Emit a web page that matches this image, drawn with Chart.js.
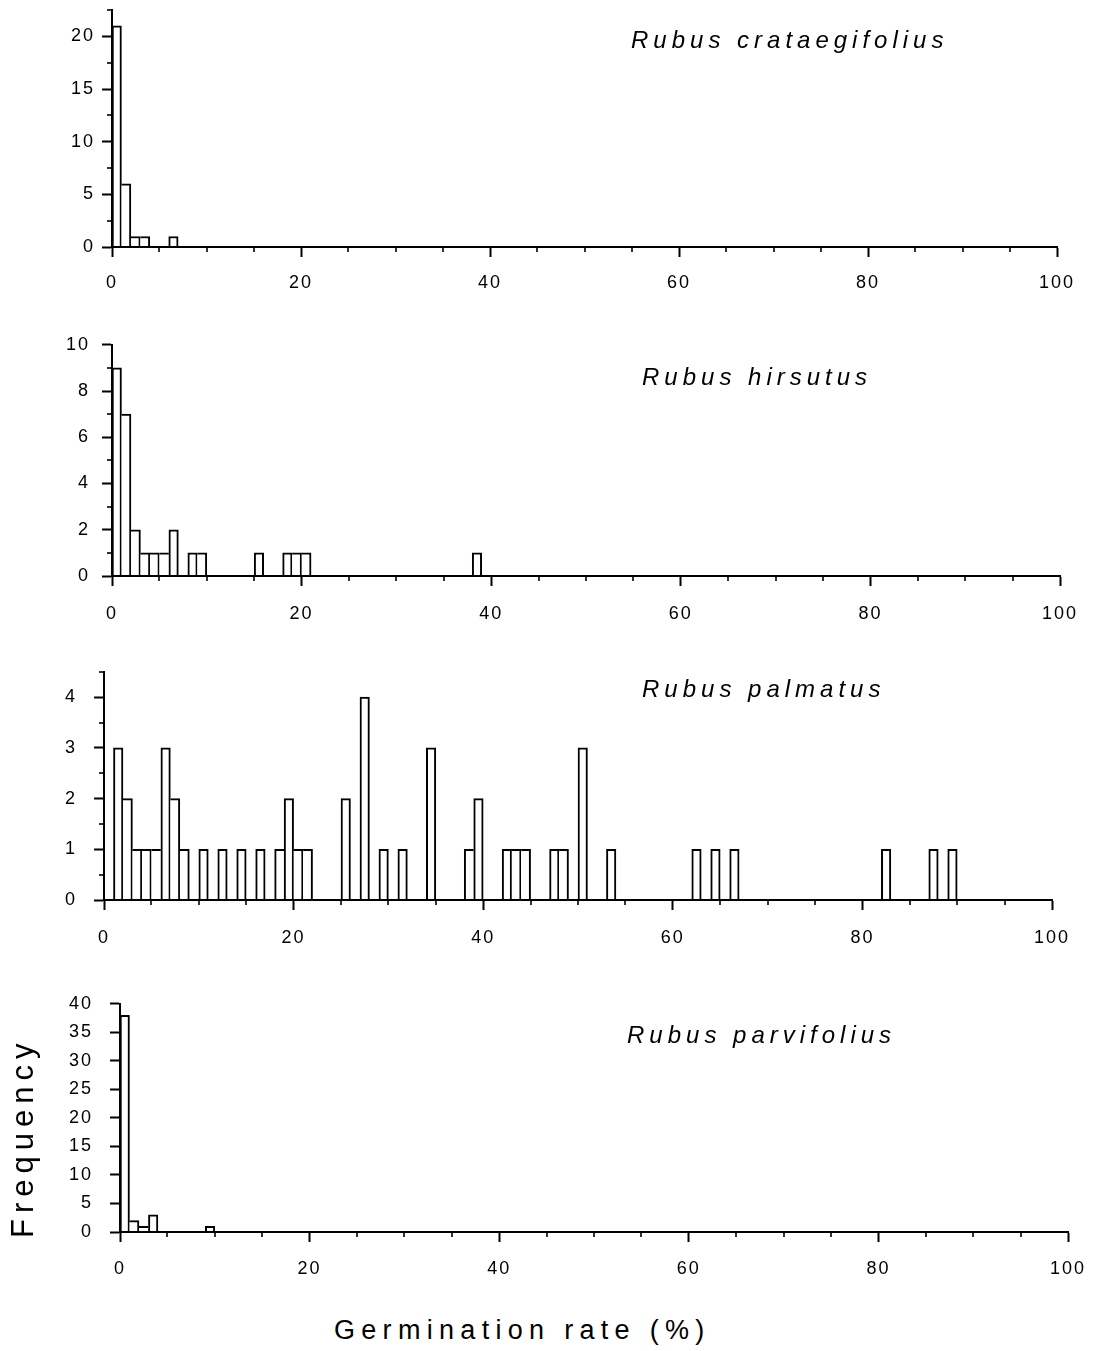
<!DOCTYPE html>
<html>
<head>
<meta charset="utf-8">
<script src="https://cdn.jsdelivr.net/npm/chart.js@4.4.1/dist/chart.umd.min.js"></script>
<style>
html,body{margin:0;padding:0;background:#fff;}
body{width:1094px;height:1351px;position:relative;overflow:hidden;font-family:"Liberation Sans",Arial,Helvetica,sans-serif;color:#000;}
.panel{position:absolute;left:0;}
.panel canvas{display:block;}
.name{position:absolute;font-style:italic;font-size:24px;line-height:1;letter-spacing:5px;white-space:nowrap;}
.xtitle{position:absolute;font-size:27px;line-height:1;letter-spacing:6.3px;white-space:nowrap;}
.ytitle{position:absolute;font-size:31px;line-height:1;letter-spacing:6px;white-space:nowrap;transform-origin:0 0;transform:rotate(-90deg);}
</style>
</head>
<body>
<div class="panel" id="p0"><canvas id="c0"></canvas></div>
<div class="panel" id="p1"><canvas id="c1"></canvas></div>
<div class="panel" id="p2"><canvas id="c2"></canvas></div>
<div class="panel" id="p3"><canvas id="c3"></canvas></div>
<div class="name" id="n0"></div>
<div class="name" id="n1"></div>
<div class="name" id="n2"></div>
<div class="name" id="n3"></div>
<div class="ytitle" id="ytitle"></div>
<div class="xtitle" id="xtitle"></div>
<script>
// ---------------- data ----------------
const speciesNames = ['Rubus crataegifolius', 'Rubus hirsutus', 'Rubus palmatus', 'Rubus parvifolius'];
const xAxisTitle = 'Germination rate (%)';
const yAxisTitle = 'Frequency';

// x tick labels shown every 20 %, minor ticks every 5 %
const xTickLabels = ['0', '20', '40', '60', '80', '100'];

// histogram bins (lower edge of a 1 % wide bin) and their counts
const crataegifoliusBins   = [0, 1, 2, 3, 6];
const crataegifoliusCounts = [21, 6, 1, 1, 1];

const hirsutusBins   = [0, 1, 2, 3, 4, 5, 6, 8, 9, 15, 18, 19, 20, 38];
const hirsutusCounts = [9, 7, 2, 1, 1, 1, 2, 1, 1, 1, 1, 1, 1, 1];

const palmatusBins   = [1, 2, 3, 4, 5, 6, 7, 8, 10, 12, 14, 16, 18, 19, 20, 21, 25, 27, 29, 31, 34, 38, 39, 42, 43, 44, 47, 48, 50, 53, 62, 64, 66, 82, 87, 89];
const palmatusCounts = [3, 2, 1, 1, 1, 3, 2, 1, 1, 1, 1, 1, 1, 2, 1, 1, 2, 4, 1, 1, 3, 1, 2, 1, 1, 1, 1, 1, 3, 1, 1, 1, 1, 1, 1, 1];

const parvifoliusBins   = [0, 1, 2, 3, 9];
const parvifoliusCounts = [38, 2, 1, 3, 1];

// y axis tick labels for each panel
const crataegifoliusYLabels = ['0', '5', '10', '15', '20'];
const hirsutusYLabels       = ['0', '2', '4', '6', '8', '10'];
const palmatusYLabels       = ['0', '1', '2', '3', '4'];
const parvifoliusYLabels    = ['0', '5', '10', '15', '20', '25', '30', '35', '40'];

// ---------------- layout / style ----------------
const W = 1120;   // canvas wider than the page so right-hand label overflow never shrinks the plot
const panels = [
  { bins: crataegifoliusBins, counts: crataegifoliusCounts, yLabels: crataegifoliusYLabels,
    yMax: 22.5, yStep: 2.5, left: 112, right: 1057, top: 10, bottom: 247, yPad: 7, xPad: 15,
    nameX: 631, nameBase: 48 },
  { bins: hirsutusBins, counts: hirsutusCounts, yLabels: hirsutusYLabels,
    yMax: 10, yStep: 1, left: 112, right: 1060, top: 342, bottom: 576, yPad: 12, xPad: 17,
    nameX: 642, nameBase: 385 },
  { bins: palmatusBins, counts: palmatusCounts, yLabels: palmatusYLabels,
    yMax: 4.5, yStep: 0.5, left: 104, right: 1052, top: 664, bottom: 900, yPad: 17, xPad: 17,
    nameX: 642, nameBase: 697 },
  { bins: parvifoliusBins, counts: parvifoliusCounts, yLabels: parvifoliusYLabels,
    yMax: 40, yStep: 5, left: 120, right: 1068, top: 996, bottom: 1232, yPad: 17, xPad: 16,
    nameX: 627, nameBase: 1043 }
];
const PAD_TOP = 20, XAXIS_H = 55;

Chart.defaults.font.family = '"Liberation Sans", Arial, Helvetica, sans-serif';
Chart.defaults.font.size = 18;
Chart.defaults.color = '#000';

const spacing = {
  id: 'spacing',
  beforeDraw(chart) { chart.ctx.letterSpacing = '2px'; }
};

const minorTicks = {
  id: 'minorTicks',
  afterDraw(chart, args, opts) {
    const ctx = chart.ctx, a = chart.chartArea;
    const xs = chart.scales.x, ys = chart.scales.y;
    ctx.save();
    ctx.strokeStyle = '#000';
    ctx.lineWidth = 1.6;
    xs.ticks.forEach(t => {
      if (!opts.isMajorX(t.value)) {
        const p = Math.round(xs.getPixelForValue(t.value));
        ctx.beginPath(); ctx.moveTo(p, a.bottom); ctx.lineTo(p, a.bottom + 5); ctx.stroke();
      }
    });
    ys.ticks.forEach(t => {
      if (!opts.isMajorY(t.value)) {
        const p = Math.round(ys.getPixelForValue(t.value));
        ctx.beginPath(); ctx.moveTo(a.left, p); ctx.lineTo(a.left - 5, p); ctx.stroke();
      }
    });
    ctx.restore();
  }
};

function makeChart(idx) {
  const P = panels[idx];
  const canvasTop = P.top - PAD_TOP;
  const H = (P.bottom - P.top) + PAD_TOP + XAXIS_H;
  const div = document.getElementById('p' + idx);
  div.style.top = canvasTop + 'px';
  const cv = document.getElementById('c' + idx);
  cv.width = W; cv.height = H;
  cv.style.width = W + 'px'; cv.style.height = H + 'px';

  const data = P.bins.map((b, i) => ({ x: b + 0.5, y: P.counts[i] }));
  const yLabelVals = P.yLabels.map(Number);
  const xLabelVals = xTickLabels.map(Number);
  const isMajorX = v => xLabelVals.some(m => Math.abs(m - v) < 1e-6);
  const isMajorY = v => yLabelVals.some(m => Math.abs(m - v) < 1e-6);

  new Chart(cv, {
    type: 'bar',
    data: {
      datasets: [{
        data: data,
        backgroundColor: '#fff',
        borderColor: '#000',
        borderSkipped: 'start',
        barPercentage: 1,
        categoryPercentage: 1,
        borderWidth: (c) => {
          const d = c.dataset.data, i = c.dataIndex;
          if (i === undefined || !d[i]) return 2;
          const cur = d[i];
          const prev = d.find(p => Math.abs(p.x - (cur.x - 1)) < 1e-6);
          const next = d.find(p => Math.abs(p.x - (cur.x + 1)) < 1e-6);
          const ph = prev ? prev.y : 0, nh = next ? next.y : 0;
          return { top: 2, bottom: 0, left: ph >= cur.y ? 0 : 2, right: nh > cur.y ? 0 : 2 };
        }
      }]
    },
    options: {
      responsive: false,
      animation: false,
      devicePixelRatio: 1,
      layout: { padding: { left: 0, right: W - P.right, top: PAD_TOP, bottom: 0 } },
      plugins: {
        legend: { display: false },
        tooltip: { enabled: false },
        minorTicks: { isMajorX, isMajorY }
      },
      scales: {
        x: {
          type: 'linear',
          min: 0, max: 100,
          offset: false,
          grid: {
            offset: false,
            drawOnChartArea: false,
            drawTicks: true,
            tickLength: 10,
            tickWidth: 2,
            tickColor: (c) => (c.tick && isMajorX(c.tick.value)) ? '#000' : 'rgba(0,0,0,0)'
          },
          border: { display: true, color: '#000', width: 2, z: 1 },
          ticks: {
            stepSize: 5,
            autoSkip: false,
            maxRotation: 0,
            padding: P.xPad,
            callback: (v) => {
              const k = xLabelVals.findIndex(m => Math.abs(m - v) < 1e-6);
              return k >= 0 ? xTickLabels[k] : '';
            }
          },
          afterFit: (s) => { s.height = XAXIS_H; }
        },
        y: {
          type: 'linear',
          min: 0, max: P.yMax,
          grid: {
            drawOnChartArea: false,
            drawTicks: true,
            tickLength: 10,
            tickWidth: 2,
            tickColor: (c) => (c.tick && isMajorY(c.tick.value)) ? '#000' : 'rgba(0,0,0,0)'
          },
          border: { display: true, color: '#000', width: 2, z: 1 },
          ticks: {
            stepSize: P.yStep,
            autoSkip: false,
            padding: P.yPad,
            callback: (v) => {
              const k = yLabelVals.findIndex(m => Math.abs(m - v) < 1e-6);
              return k >= 0 ? P.yLabels[k] : '';
            }
          },
          afterFit: (s) => { s.width = P.left; }
        }
      }
    },
    plugins: [spacing, minorTicks]
  });

  const nm = document.getElementById('n' + idx);
  nm.textContent = speciesNames[idx];
  nm.style.left = P.nameX + 'px';
  nm.style.top = (P.nameBase - 20.3) + 'px';
}

for (let i = 0; i < panels.length; i++) makeChart(i);

const yt = document.getElementById('ytitle');
yt.textContent = yAxisTitle;
yt.style.left = '7px';
yt.style.top = '1238px';

const xt = document.getElementById('xtitle');
xt.textContent = xAxisTitle;
xt.style.left = '334px';
xt.style.top = '1317px';
</script>
</body>
</html>
